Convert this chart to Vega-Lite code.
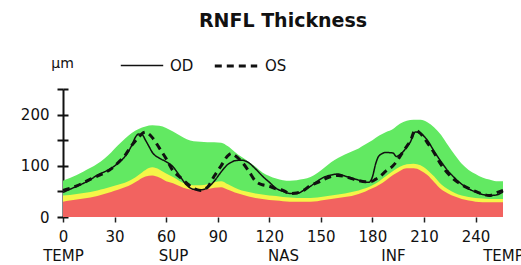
{
  "$schema": "https://vega.github.io/schema/vega-lite/v6.json",
  "width": 440,
  "height": 128,
  "autosize": {"type": "none"},
  "padding": {"left": 63, "top": 89, "right": 18, "bottom": 48},
  "background": "white",
  "title": {"text": "RNFL Thickness", "font": "DejaVu Sans", "fontSize": 19, "fontWeight": "bold", "color": "#111", "anchor": "middle", "offset": 12},
  "config": {
    "view": {"stroke": null},
    "font": "DejaVu Sans",
    "axis": {"labelFont": "DejaVu Sans", "labelFontSize": 15, "labelColor": "#111", "grid": false}
  },
  "datasets": {
    "bands": [
      {"pos":0,"red":30,"yellow":42,"green":71},{"pos":4,"red":32,"yellow":43,"green":76},{"pos":8,"red":34,"yellow":45,"green":82},{"pos":12,"red":36,"yellow":47,"green":89},
      {"pos":16,"red":38,"yellow":49,"green":96},{"pos":20,"red":41,"yellow":52,"green":104},{"pos":24,"red":45,"yellow":55,"green":114},{"pos":28,"red":49,"yellow":59,"green":126},
      {"pos":32,"red":53,"yellow":63,"green":140},{"pos":36,"red":58,"yellow":67,"green":153},{"pos":40,"red":64,"yellow":73,"green":164},{"pos":44,"red":72,"yellow":82,"green":172},
      {"pos":48,"red":79,"yellow":92,"green":177},{"pos":52,"red":81,"yellow":97,"green":179},{"pos":56,"red":77,"yellow":93,"green":178},{"pos":60,"red":70,"yellow":85,"green":174},
      {"pos":64,"red":66,"yellow":78,"green":167},{"pos":68,"red":60,"yellow":70,"green":159},{"pos":72,"red":55,"yellow":64,"green":152},{"pos":76,"red":53,"yellow":62,"green":148},
      {"pos":80,"red":52,"yellow":62,"green":147},{"pos":84,"red":54,"yellow":64,"green":146},{"pos":88,"red":57,"yellow":68,"green":146},{"pos":92,"red":58,"yellow":70,"green":145},
      {"pos":96,"red":53,"yellow":64,"green":138},{"pos":100,"red":48,"yellow":57,"green":127},{"pos":104,"red":44,"yellow":52,"green":117},{"pos":108,"red":40,"yellow":49,"green":108},
      {"pos":112,"red":37,"yellow":46,"green":98},{"pos":116,"red":35,"yellow":44,"green":87},{"pos":120,"red":33,"yellow":42,"green":80},{"pos":124,"red":32,"yellow":41,"green":75},
      {"pos":128,"red":31,"yellow":39,"green":72},{"pos":132,"red":30,"yellow":38,"green":71},{"pos":136,"red":30,"yellow":37,"green":72},{"pos":140,"red":30,"yellow":37,"green":74},
      {"pos":144,"red":30,"yellow":37,"green":78},{"pos":148,"red":31,"yellow":38,"green":86},{"pos":152,"red":33,"yellow":40,"green":96},{"pos":156,"red":35,"yellow":42,"green":107},
      {"pos":160,"red":37,"yellow":44,"green":115},{"pos":164,"red":39,"yellow":46,"green":122},{"pos":168,"red":41,"yellow":49,"green":128},{"pos":172,"red":45,"yellow":52,"green":134},
      {"pos":176,"red":50,"yellow":56,"green":142},{"pos":180,"red":56,"yellow":62,"green":150},{"pos":184,"red":63,"yellow":70,"green":159},{"pos":188,"red":72,"yellow":80,"green":166},
      {"pos":192,"red":82,"yellow":90,"green":172},{"pos":196,"red":90,"yellow":98,"green":182},{"pos":200,"red":95,"yellow":103,"green":188},{"pos":204,"red":95,"yellow":104,"green":190},
      {"pos":208,"red":91,"yellow":101,"green":190},{"pos":212,"red":82,"yellow":92,"green":185},{"pos":216,"red":68,"yellow":79,"green":175},{"pos":220,"red":54,"yellow":64,"green":160},
      {"pos":224,"red":46,"yellow":54,"green":140},{"pos":228,"red":40,"yellow":47,"green":121},{"pos":232,"red":35,"yellow":42,"green":104},{"pos":236,"red":32,"yellow":39,"green":92},
      {"pos":240,"red":30,"yellow":37,"green":84},{"pos":244,"red":29,"yellow":36,"green":77},{"pos":248,"red":29,"yellow":35,"green":73},{"pos":252,"red":29,"yellow":35,"green":70},
      {"pos":256,"red":29,"yellow":35,"green":70}
    ],
    "lines": [
      {"pos":0,"OD":48,"OS":52},{"pos":4,"OD":54,"OS":56},{"pos":8,"OD":60,"OS":61},{"pos":12,"OD":66,"OS":67},
      {"pos":16,"OD":73,"OS":74},{"pos":20,"OD":82,"OS":80},{"pos":24,"OD":88,"OS":86},{"pos":28,"OD":95,"OS":94},
      {"pos":32,"OD":105,"OS":106},{"pos":36,"OD":118,"OS":120},{"pos":40,"OD":140,"OS":140},{"pos":42,"OD":155,"OS":148},
      {"pos":44,"OD":162,"OS":155},{"pos":46,"OD":161,"OS":163},{"pos":48,"OD":150,"OS":166},{"pos":50,"OD":138,"OS":162},
      {"pos":52,"OD":126,"OS":155},{"pos":56,"OD":115,"OS":135},{"pos":60,"OD":108,"OS":114},{"pos":64,"OD":98,"OS":90},
      {"pos":68,"OD":80,"OS":78},{"pos":72,"OD":62,"OS":66},{"pos":76,"OD":54,"OS":56},{"pos":80,"OD":53,"OS":52},
      {"pos":84,"OD":57,"OS":58},{"pos":88,"OD":70,"OS":80},{"pos":92,"OD":88,"OS":100},{"pos":96,"OD":103,"OS":120},
      {"pos":98,"OD":107,"OS":124},{"pos":100,"OD":110,"OS":120},{"pos":104,"OD":111,"OS":108},{"pos":108,"OD":106,"OS":90},
      {"pos":112,"OD":94,"OS":70},{"pos":116,"OD":80,"OS":63},{"pos":120,"OD":68,"OS":60},{"pos":124,"OD":56,"OS":55},
      {"pos":128,"OD":50,"OS":52},{"pos":132,"OD":46,"OS":46},{"pos":136,"OD":46,"OS":47},{"pos":140,"OD":52,"OS":52},
      {"pos":144,"OD":60,"OS":62},{"pos":148,"OD":70,"OS":67},{"pos":152,"OD":78,"OS":74},{"pos":156,"OD":82,"OS":79},
      {"pos":160,"OD":84,"OS":81},{"pos":164,"OD":80,"OS":79},{"pos":168,"OD":76,"OS":75},{"pos":172,"OD":72,"OS":71},
      {"pos":176,"OD":68,"OS":69},{"pos":178,"OD":68,"OS":69},{"pos":180,"OD":78,"OS":70},{"pos":182,"OD":105,"OS":74},
      {"pos":184,"OD":120,"OS":78},{"pos":188,"OD":126,"OS":90},{"pos":192,"OD":125,"OS":100},{"pos":194,"OD":118,"OS":108},
      {"pos":196,"OD":122,"OS":118},{"pos":198,"OD":128,"OS":128},{"pos":200,"OD":137,"OS":138},{"pos":202,"OD":146,"OS":148},
      {"pos":205,"OD":166,"OS":170},{"pos":208,"OD":163,"OS":163},{"pos":212,"OD":150,"OS":145},{"pos":216,"OD":128,"OS":125},
      {"pos":220,"OD":108,"OS":102},{"pos":224,"OD":90,"OS":85},{"pos":228,"OD":76,"OS":72},{"pos":232,"OD":64,"OS":63},
      {"pos":236,"OD":55,"OS":56},{"pos":240,"OD":49,"OS":50},{"pos":244,"OD":44,"OS":45},{"pos":248,"OD":42,"OS":42},
      {"pos":252,"OD":43,"OS":47},{"pos":256,"OD":49,"OS":52}
    ]
  },
  "layer": [
    {
      "data": {"name": "bands"},
      "mark": {"type": "area", "color": "#62E962", "interpolate": "monotone"},
      "encoding": {
        "x": {"field": "pos", "type": "quantitative", "scale": {"domain": [0, 256], "nice": false, "zero": false},
              "axis": {"values": [0,30,60,90,120,150,180,210,240], "title": null, "domain": false, "tickSize": 5, "tickWidth": 1.5, "tickColor": "#222", "labelPadding": 7, "labelFlush": false, "labelOverlap": false, "labelBound": false}},
        "y": {"field": "green", "type": "quantitative", "scale": {"domain": [0, 250], "nice": false},
              "axis": {"values": [0,50,100,150,200,250], "labelExpr": "datum.value % 100 == 0 ? datum.label : ''", "title": "µm", "titleAngle": 0, "titleX": -1, "titleY": -22, "titleAlign": "center", "titleBaseline": "alphabetic", "titleFontWeight": "normal", "titleFont": "DejaVu Sans", "titleFontSize": 14, "titleColor": "#111", "domain": true, "domainColor": "#111", "domainWidth": 2, "tickColor": "#111", "tickWidth": 2, "tickSize": 6, "labelPadding": 8}}
      }
    },
    {
      "data": {"name": "bands"},
      "mark": {"type": "area", "color": "#F5F548", "interpolate": "monotone"},
      "encoding": {
        "x": {"field": "pos", "type": "quantitative", "axis": null},
        "y": {"field": "yellow", "type": "quantitative",
              "axis": {"orient": "left", "values": [0,50,100,150,200,250], "labels": false, "title": null, "domain": false, "tickColor": "#111", "tickWidth": 2, "tickSize": -5}}
      }
    },
    {
      "data": {"name": "bands"},
      "mark": {"type": "area", "color": "#F26360", "interpolate": "monotone"},
      "encoding": {
        "x": {"field": "pos", "type": "quantitative", "axis": null},
        "y": {"field": "red", "type": "quantitative", "axis": null}
      }
    },
    {
      "data": {"name": "lines"},
      "transform": [{"fold": ["OD", "OS"], "as": ["eye", "um"]}],
      "mark": {"type": "line", "color": "#111", "interpolate": "monotone"},
      "encoding": {
        "x": {"field": "pos", "type": "quantitative",
              "axis": {"orient": "bottom", "values": [0,64,128,192,256], "labelExpr": "datum.value == 64 ? 'SUP' : datum.value == 128 ? 'NAS' : datum.value == 192 ? 'INF' : 'TEMP'", "title": null, "domain": false, "ticks": false, "tickSize": 0, "labelPadding": 31, "labelFlush": false, "labelOverlap": false, "labelBound": false}},
        "y": {"field": "um", "type": "quantitative", "axis": null},
        "strokeDash": {"field": "eye", "type": "nominal", "scale": {"domain": ["OD", "OS"], "range": [[1, 0], [7, 5]]},
                       "legend": {"title": null, "orient": "none", "legendX": 57, "legendY": -46, "direction": "horizontal", "symbolType": "stroke", "symbolSize": 1800, "symbolStrokeColor": "#111", "labelFont": "DejaVu Sans", "labelFontSize": 15, "labelColor": "#111", "columnPadding": 14, "labelOffset": 6}},
        "strokeWidth": {"field": "eye", "type": "nominal", "scale": {"domain": ["OD", "OS"], "range": [1.5, 3]}, "legend": null}
      }
    }
  ],
  "resolve": {"axis": {"x": "independent", "y": "independent"}}
}
